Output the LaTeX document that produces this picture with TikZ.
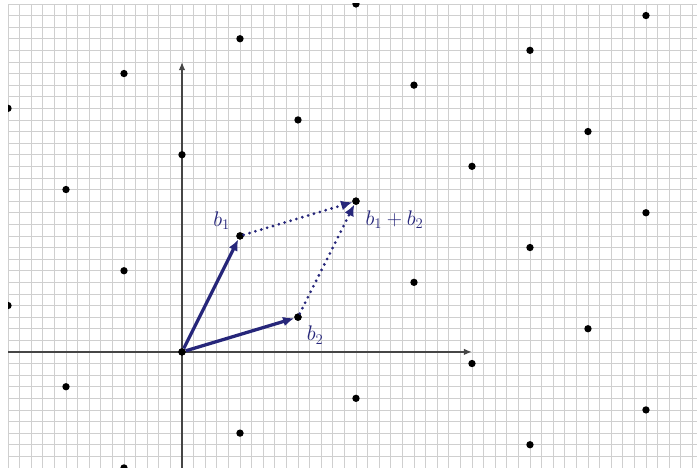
\documentclass[tikz,border=0pt]{standalone}
\usetikzlibrary{arrows.meta}
\definecolor{vec}{RGB}{38,38,122}
\definecolor{axiscol}{RGB}{70,70,70}
\begin{document}
\begin{tikzpicture}[x=0.4cm,y=0.4cm,
  gridline/.style={draw=gray!38, line width=0.75pt},
  axisline/.style={draw=axiscol, line width=1.7pt, -{Latex[length=8pt,width=6.5pt]}},
  latpt/.style={circle, fill=black, inner sep=0pt, minimum size=7.2pt},
  vecarrow/.style={draw=vec, line width=3.2pt, -{Latex[length=11pt,width=9.5pt]}},
  sumarrow/.style={draw=vec, line width=3pt, line cap=round, dash pattern=on 0pt off 6pt, -{Latex[length=11pt,width=10pt]}},
  lbl/.style={text=vec, font=\huge}
]
\useasboundingbox (-15.69,-10.17) rectangle (44.40,30.34);
\begin{scope}
  \clip (-15,-10) rectangle (45,30);
  \draw[gridline, step=0.4cm] (-15,-10) grid (45,30);
  \coordinate (xl) at (-15,0);
  \coordinate (xr) at (25,0);
  \coordinate (yb) at (0,-10);
  \coordinate (yt) at (0,25);
  \draw[axisline] (xl) -- (xr);
  \draw[axisline] (yb) -- (yt);
  \foreach \a in {-6,...,6} {
    \foreach \b in {-6,...,6} {
      \fill ({5*\a+10*\b},{10*\a+3*\b}) circle (3.6pt);
    }
  }
\end{scope}
\node[latpt] (O) at (0,0) {};
\node[latpt] (B1) at (5,10) {};
\node[latpt] (B2) at (10,3) {};
\node[latpt] (B12) at (15,13) {};
\draw[vecarrow] (O) -- (B1);
\draw[vecarrow] (O) -- (B2);
\draw[sumarrow] (B1) -- (B12);
\draw[sumarrow] (B2) -- (B12);
\node[lbl] (L1) at (3.42,11.35) {$b_1$};
\node[lbl] (L2) at (11.47,1.45) {$b_2$};
\node[lbl] (L12) at (18.32,11.38) {$b_1+b_2$};
\end{tikzpicture}
\end{document}
